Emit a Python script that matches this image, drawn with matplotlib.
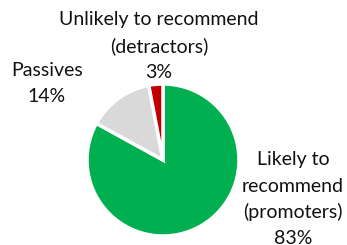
import matplotlib
matplotlib.use("Agg")
import matplotlib.pyplot as plt

categories = ["Likely to\nrecommend\n(promoters)", "Passives", "Unlikely to recommend\n(detractors)"]
values = [83, 14, 3]
colors = ["#00B050", "#D9D9D9", "#C00000"]

plt.rcParams['font.family'] = ['Lato', 'DejaVu Sans']

W, H = 347, 245
fig = plt.figure(figsize=(W/100, H/100), dpi=100)
cx, cy, r = 163, 160, 76
ax = fig.add_axes([(cx - r)/W, (H - cy - r)/H, 2*r/W, 2*r/H])
ax.pie(values, colors=colors, startangle=90, counterclock=False,
       wedgeprops=dict(edgecolor="white", linewidth=2.5), radius=1)
ax.set_xlim(-1, 1)
ax.set_ylim(-1, 1)
ax.set_aspect('equal')
ax.axis('off')

fs = 14
step = 26
labels_pos = [(293, 199), (47, 84), (159, 46)]
for cat, v, (x, y) in zip(categories, values, labels_pos):
    lines = cat.split("\n") + [f"{v}%"]
    n = len(lines)
    y0 = y - step * (n - 1) / 2
    for i, line in enumerate(lines):
        fig.text(x/W, 1 - (y0 + i*step)/H, line, ha='center', va='center',
                 fontsize=fs, color='#111111')

fig.savefig("out.png", dpi=100)
